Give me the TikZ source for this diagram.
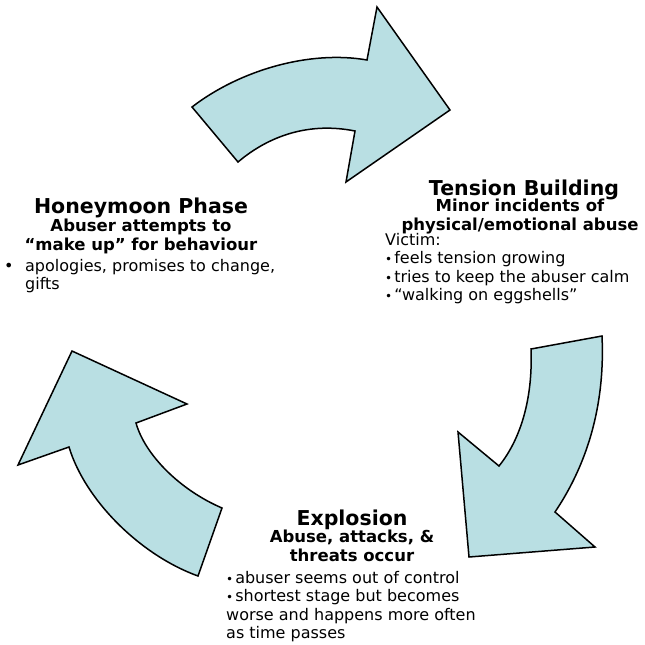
\documentclass[tikz,border=0pt]{standalone}
\usepackage{fontspec}
\setmainfont{DejaVu Sans}
\usetikzlibrary{positioning}

\definecolor{arrowblue}{RGB}{185,223,227}

\tikzset{
  cyclearrow/.style={draw=black, line width=1.5pt, fill=arrowblue, line join=miter},
  phasetitle/.style={font=\fontsize{20.5}{24}\selectfont\bfseries, inner sep=0pt},
  phasesub/.style={font=\fontsize{16.5}{19}\selectfont\bfseries, align=center, inner sep=0pt},
  phasebody/.style={font=\fontsize{16}{18.5}\selectfont, align=left, inner sep=0pt}
}
\newcommand{\smallbullet}{{\fontsize{12}{12}\selectfont•}\hspace{2pt}}

\begin{document}
\begin{tikzpicture}[x=1pt,y=-1pt]
\useasboundingbox (0,0) rectangle (645,645);

% top arrow (honeymoon -> tension)
\draw[cyclearrow] (192,107) .. controls (240,70) and (310,50) .. (367,60)
  -- (377,7) -- (450,110) -- (346,182) -- (355,131)
  .. controls (310,122) and (270,135) .. (238,162) -- cycle;

% right arrow (tension -> explosion)
\draw[cyclearrow] (531,349) -- (602,336)
  .. controls (605,400) and (590,460) .. (555,512)
  -- (595,547) -- (469,557) -- (458,432) -- (499,466)
  .. controls (520,440) and (533,400) .. (531,349) -- cycle;

% left arrow (explosion -> honeymoon)
\draw[cyclearrow] (72,351) -- (187,404) -- (136,423)
  .. controls (145,455) and (180,490) .. (222,508)
  -- (198,576)
  .. controls (140,555) and (85,500) .. (69,447)
  -- (18,465) -- cycle;

% left edges of the text blocks
\coordinate (hmLeft) at (4,0);
\coordinate (tbLeft) at (385,0);
\coordinate (exLeft) at (226,0);

% Honeymoon Phase
\node[phasetitle, anchor=base] (hmTitle) at (141,213) {Honeymoon Phase};
\node[phasesub, below=1pt of hmTitle] (hmSub) {Abuser attempts to\\“make up” for behaviour};
\node[phasebody, anchor=north west, yshift=-5pt] (hmBody) at (hmSub.south -| hmLeft)
  {\makebox[21pt][l]{•}apologies, promises to change,\\\hspace*{21pt}gifts};

% Tension Building
\node[phasetitle, anchor=base] (tbTitle) at (524,195) {Tension Building};
\node[phasesub, below=-1pt of tbTitle, xshift=-4pt] (tbSub) {Minor incidents of\\physical/emotional abuse};
\node[phasebody, anchor=north west, yshift=1pt] (tbBody) at (tbSub.south -| tbLeft)
  {Victim:\\\smallbullet feels tension growing\\\smallbullet tries to keep the abuser calm\\\smallbullet “walking on eggshells”};

% Explosion
\node[phasetitle, anchor=base] (exTitle) at (352,525) {Explosion};
\node[phasesub, below=0pt of exTitle] (exSub) {Abuse, attacks, \&\\threats occur};
\node[phasebody, anchor=north west, yshift=-9.5pt] (exBody) at (exSub.south -| exLeft)
  {\smallbullet abuser seems out of control\\\smallbullet shortest stage but becomes\\worse and happens more often\\as time passes};
\end{tikzpicture}
\end{document}
